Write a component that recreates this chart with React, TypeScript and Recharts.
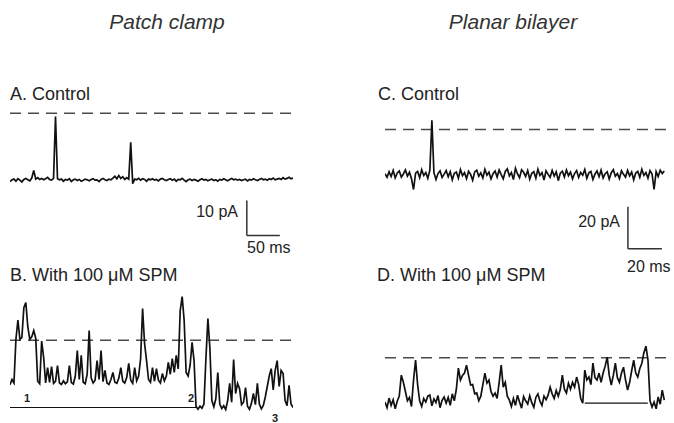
import React from 'react';
import { LineChart, Line, XAxis, YAxis, ReferenceLine } from 'recharts';

// sampling step of each recording (ms)
const PATCH_DT = 3;
const BILAYER_DT = 1.2;

// open-channel current level (pA), drawn as the dashed line
const PATCH_OPEN = 19.2;
const BILAYER_OPEN = 21.6;

// A. patch clamp, control (pA)
const patchControl = [
  -0.3, 0.2, 0.4, -0.2, 0.5, 0.1, -0.4, 0.3, 0.6, 0.2, -0.1, 0.7,
  2.9,
  0.4, 0.8, 0.3, 0.6, 0.2, 0.5, 0.9, 0.3, 0.1, 0.6,
  18.3,
  0.5, 0.2, 0.4, -0.2, 0.3, 0.1, 0.5, -0.3, 0.2, 0.4,
  0.0, 0.3, -0.2, 0.1, 0.4, 0.2, -0.1, 0.3, 0.5, 0.1,
  0.2, -0.3, 0.3, 0.6, 0.2, 0.0, 0.4, 0.2, 0.7, 1.2,
  0.5, 1.4, 0.6, 1.1, 0.3, 0.8, 0.4,
  10.9,
  -0.9, 0.4, 0.2, 0.6, 0.1, 0.5, 0.3, -0.2, 0.4, 0.2,
  0.5, 0.1, 0.3, -0.1, 0.4, 0.6, 0.2, 0.0, 0.3, 0.5,
  0.1, 0.4, -0.2, 0.3, 0.2, 0.6, 0.1, -0.3, 0.2, 0.4,
  0.0, 0.3, 0.1, -0.2, 0.2, 0.5, 0.1, 0.3, -0.1, 0.2,
  0.4, 0.0, 0.2, -0.2, 0.3, 0.1, 0.5, 0.2, -0.1, 0.3,
  0.6, 0.2, 0.4, 0.1, 0.3, 0.0, 0.2, 0.4, -0.1, 0.3,
  0.1, 0.5, 0.2, 0.0, 0.3, 0.6, 0.2, 0.4, 0.1, 0.5,
  0.3, 0.7, 0.2, 0.4, 0.6, 0.3, 0.8, 0.4, 0.6, 0.9,
  0.5, 0.7,
];

// B. patch clamp, 100 uM spermine (pA)
const patchSpm = [
  6.5, 8.0, 7.0, 19.5, 25.0, 19.5, 20.0, 28.5, 30.0, 23.0,
  19.5, 20.2, 22.0, 19.8, 7.5, 6.8, 19.0, 14.3, 7.0, 11.4,
  7.2, 11.7, 6.9, 7.5, 12.0, 7.0, 6.6, 7.6, 6.8, 7.3,
  12.0, 7.1, 6.7, 9.0, 16.3, 8.0, 14.9, 7.2, 6.8, 9.5,
  22.0, 8.5, 7.0, 7.8, 13.4, 8.0, 16.3, 7.4, 10.6, 7.0,
  6.6, 8.0, 10.0, 7.2, 6.9, 8.4, 11.4, 7.5, 7.0, 8.6,
  12.6, 7.8, 6.9, 11.4, 7.6, 9.0, 14.0, 28.3, 18.3, 13.4,
  8.0, 7.2, 11.4, 7.5, 11.1, 7.8, 7.0, 9.7, 7.6, 9.0,
  12.9, 9.5, 14.0, 10.0, 14.9, 11.0, 27.7, 31.7, 24.9, 10.0,
  9.0, 12.0, 18.6, 13.4, 0.3, -0.5, 0.4, -0.2, 1.0, 14.0,
  25.4, 17.0, 2.0, 0.2, 2.5, 10.0, 1.0, -0.3, 0.5, -0.6,
  2.0, 6.9, 1.5, 13.7, 4.0, 6.9, 5.4, 0.8, 1.5, 5.7,
  0.4, -0.5, 1.2, 4.0, 0.8, 6.9, 1.0, -0.4, 0.6, 3.0,
  6.0, 9.0, 11.1, 5.0, 10.6, 13.4, 6.0, 10.6, 9.7, 2.0,
  0.5, 6.3, 1.0, 0.0,
];

// C. planar bilayer, control (pA)
const bilayerControl = [
  0.5, -1.2, 1.4, -0.8, 2.1, -1.5, 0.9, 1.8, -1.1, 0.4,
  2.3, -0.6, 1.2, -1.9, -7.0, 0.8, 1.6, -1.4, 2.4, -0.3,
  1.1, -1.7, 2.2, 26.0, 1.0, -2.2, 0.6, 1.9, -1.3, 0.3,
  2.0, -0.9, 1.5, -2.4, 0.7, 1.3, -1.6, 2.5, -0.4, 1.0,
  -1.8, 1.7, 0.2, -2.6, 1.4, 2.2, -0.7, 0.9, -1.5, 2.6,
  -0.2, 1.2, -2.0, 0.5, 1.8, -1.1, 2.3, 0.1, -1.9, 1.6,
  2.8, -0.5, 1.1, -2.3, 3.1, 0.4, -1.4, 2.4, 1.2, -0.8,
  2.0, -2.1, 0.7, 1.5, -1.6, 2.7, -0.3, 1.0, -2.5, 1.9,
  0.2, -1.2, 2.1, -0.6, 1.4, -2.8, 0.8, 1.7, -1.0, 2.3,
  -0.4, 1.3, -1.9, 0.6, 2.0, -1.3, 1.1, -0.2, 2.5, -1.7,
  0.9, 1.6, -2.2, 0.3, 1.8, -0.9, 2.2, -1.5, 0.5, 1.4,
  -2.0, 1.0, 2.4, -0.7, 0.6, -1.8, 1.9, 0.2, -1.1, 2.1,
  -0.5, 1.3, -2.4, 0.8, 1.6, -1.2, 2.6, -0.3, 1.1, -1.6,
  2.0, 0.4, -7.0, 1.5, -0.8, 2.2, 0.6, 1.8,
];

// D. planar bilayer, 100 uM spermine (pA)
const bilayerSpm = [
  0.5, -2.2, 2.4, -1.1, 1.6, -2.7, 0.9, 3.3,
  13.3, 10.0, 5.5, 1.1, 2.7, -1.6,
  11.0, 20.5, 8.8, 1.1,
  -1.6, 2.2, 0.5, 3.3, 3.8,
  -1.3, 2.0, 0.3, 3.6, -2.2, 1.3, 2.9,
  0.0, 2.7, -1.1, 4.4, 1.1, 6.6,
  16.7, 11.0, 13.2, 14.3, 18.1, 13.2, 8.6, 8.8, 4.4, 4.8,
  1.1, 3.3, 8.8, 14.3, 9.5, 11.0, 5.5, 3.3, 4.8, 2.2,
  9.9, 18.1, 7.6, 9.9, 3.3, 1.4, -1.6,
  2.2, -1.1, 3.8, 0.5, -2.4, 3.1, 1.1, -0.5, 3.5, 0.2,
  -2.0, 2.7, 4.4, 0.9, -1.1, 3.3, 1.6,
  3.8, 7.6, 4.4, 2.2, 6.0, 3.3, 6.6, 13.3, 6.6, 4.8,
  9.5, 6.6, 9.9, 7.6, 12.4, 8.8, 2.2, 0.0,
  15.7, 11.0, 12.4, 8.8, 19.0, 12.1, 11.0, 14.3, 9.9, 14.3,
  17.6, 21.9, 13.2, 8.6, 13.2, 19.0, 12.1, 9.9, 14.3, 17.1,
  11.0, 6.2, 9.9, 15.4, 20.5, 14.3, 12.4, 16.5, 19.0, 24.0,
  27.1, 20.5, 1.1,
  -1.9, 0.5, -2.7, 2.9, -0.5, 6.2, 1.4,
];

// closed-level marker lines (ms span)
const patchClosedSpan = [0, 282];
const bilayerClosedSpan = [117.6, 154.7];

// scale bars: [x start ms, y start pA, length ms, height pA]
const patchScale = [359, -15.7, 50, 10];
const bilayerScale = [143, -35.2, 20, 20];

const toSeries = (values: number[], dt: number) =>
  values.map((v, i) => ({ t: Math.round(i * dt * 100) / 100, v }));

const INK = '#111';
const DASH = '#4a4a4a';

interface TraceProps {
  values: number[];
  dt: number;
  left: number;
  top: number;
  width: number;
  height: number;
  xDomain: [number, number];
  yDomain: [number, number];
  open: number;
  closedSpan?: number[];
  scale?: number[];
}

const Trace: React.FC<TraceProps> = ({
  values, dt, left, top, width, height, xDomain, yDomain, open, closedSpan, scale,
}) => (
  <div style={{ position: 'absolute', left, top }}>
    <LineChart
      width={width}
      height={height}
      data={toSeries(values, dt)}
      margin={{ top: 0, right: 0, bottom: 0, left: 0 }}
    >
      <XAxis dataKey="t" type="number" domain={xDomain} hide allowDataOverflow />
      <YAxis type="number" domain={yDomain} hide allowDataOverflow />
      <ReferenceLine y={open} stroke={DASH} strokeWidth={1.6} strokeDasharray="11 7" />
      {closedSpan && (
        <ReferenceLine
          segment={[{ x: closedSpan[0], y: 0 }, { x: closedSpan[1], y: 0 }]}
          stroke={INK}
          strokeWidth={1.2}
        />
      )}
      {scale && (
        <ReferenceLine
          segment={[{ x: scale[0], y: scale[1] }, { x: scale[0], y: scale[1] + scale[3] }]}
          stroke="#333"
          strokeWidth={1.5}
        />
      )}
      {scale && (
        <ReferenceLine
          segment={[{ x: scale[0], y: scale[1] }, { x: scale[0] + scale[2], y: scale[1] }]}
          stroke="#333"
          strokeWidth={1.5}
        />
      )}
      <Line
        type="linear"
        dataKey="v"
        stroke={INK}
        strokeWidth={1.7}
        strokeLinejoin="miter"
        dot={false}
        isAnimationActive={false}
      />
    </LineChart>
  </div>
);

const App: React.FC = () => (
  <div
    style={{
      position: 'absolute',
      left: 0,
      top: 0,
      width: 674,
      height: 423,
      background: '#fff',
      overflow: 'hidden',
      fontFamily: '"Liberation Sans", Arial, sans-serif',
    }}
  >
    <Trace
      values={patchControl} dt={PATCH_DT}
      left={10} top={92.5} width={283} height={147}
      xDomain={[0, 429]} yDomain={[-17, 25]} open={PATCH_OPEN}
      scale={patchScale}
    />
    <Trace
      values={patchSpm} dt={PATCH_DT}
      left={10} top={291.5} width={283} height={129.5}
      xDomain={[0, 429]} yDomain={[-4, 33]} open={PATCH_OPEN}
      closedSpan={patchClosedSpan}
    />
    <Trace
      values={bilayerControl} dt={BILAYER_DT}
      left={385} top={116.2} width={282} height={134.4}
      xDomain={[0, 166]} yDomain={[-36, 28]} open={BILAYER_OPEN}
      scale={bilayerScale}
    />
    <Trace
      values={bilayerSpm} dt={BILAYER_DT}
      left={385} top={337.9} width={282} height={84}
      xDomain={[0, 166]} yDomain={[-9, 31]} open={BILAYER_OPEN}
      closedSpan={bilayerClosedSpan}
    />
    <svg
      width={674}
      height={423}
      style={{ position: 'absolute', left: 0, top: 0, pointerEvents: 'none' }}
    >
      <g fontStyle="italic" fontSize={21} fill="#333" textAnchor="middle">
        <text x={167} y={29}>Patch clamp</text>
        <text x={513} y={29}>Planar bilayer</text>
      </g>
      <g fontSize={18} fill="#222">
        <text x={10} y={100}>A. Control</text>
        <text x={378} y={100}>C. Control</text>
        <text x={10} y={281}>B. With 100 μM SPM</text>
        <text x={377} y={281}>D. With 100 μM SPM</text>
      </g>
      <g fontSize={16} fill="#222">
        <text x={238} y={217} textAnchor="end">10 pA</text>
        <text x={247} y={253}>50 ms</text>
        <text x={620} y={227} textAnchor="end">20 pA</text>
        <text x={627} y={272}>20 ms</text>
      </g>
      <g fontSize={11} fontWeight="bold" fill="#222">
        <text x={24} y={402}>1</text>
        <text x={188} y={402}>2</text>
        <text x={272} y={422}>3</text>
      </g>
    </svg>
  </div>
);

export default App;
